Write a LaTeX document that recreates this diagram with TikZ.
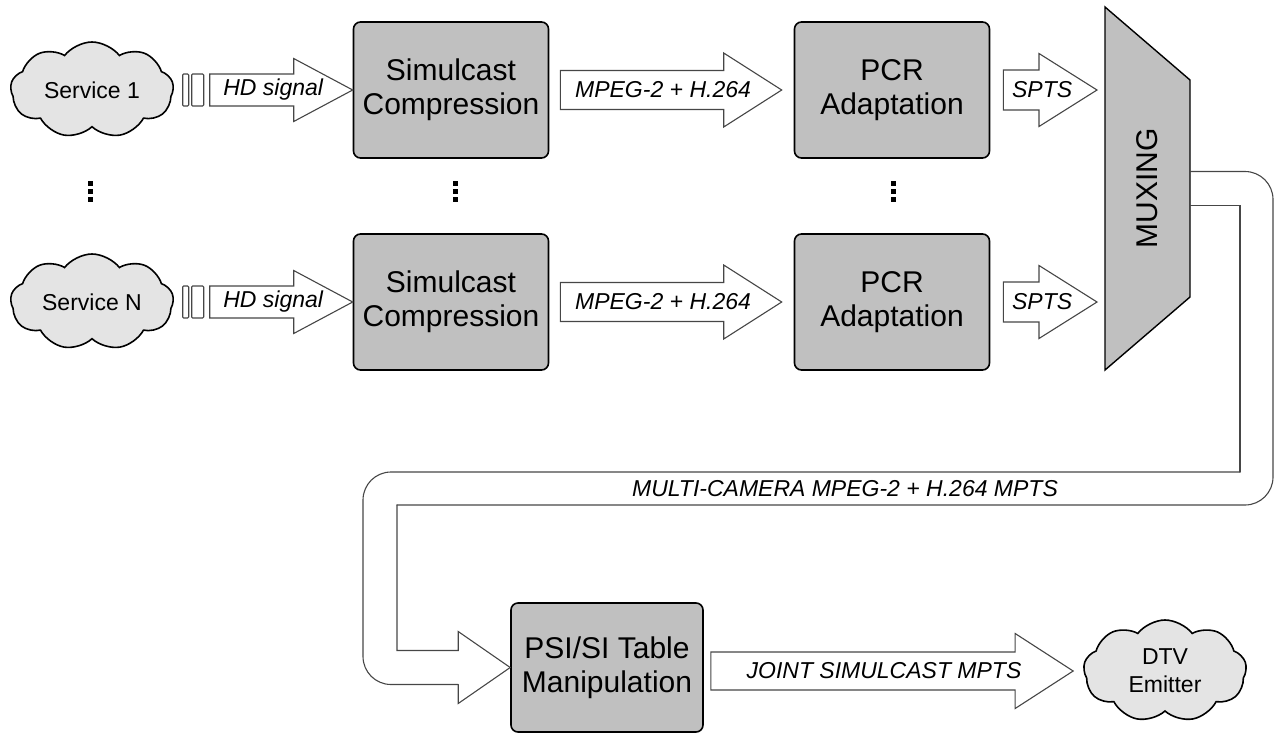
\documentclass[tikz,border=0pt]{standalone}
\usepackage{fontspec}
\setmainfont{Liberation Sans}
\usetikzlibrary{shapes.symbols,calc}
\definecolor{boxgray}{RGB}{192,192,192}
\definecolor{cloudgray}{RGB}{228,228,228}
\definecolor{linegray}{RGB}{70,70,70}
\tikzstyle{block} = [rectangle, draw, line width=1.6pt, rounded corners=7pt, fill=boxgray, minimum width=195pt, minimum height=136pt, align=center, font=\fontsize{30}{34}\selectfont]
\tikzstyle{service} = [cloud, cloud puffs=9, cloud puff arc=105, cloud ignores aspect, draw, line width=1.6pt, fill=cloudgray, minimum width=163pt, minimum height=96pt, align=center, font=\fontsize{23}{28}\selectfont]
\tikzstyle{muxer} = [rotate=90, font=\fontsize{30}{34}\selectfont]
\tikzstyle{fat} = [draw=linegray, line width=1.1pt, fill=white, line join=miter]
\tikzstyle{bandline} = [draw=linegray, line width=1.1pt, line cap=round]
\tikzstyle{flowlabel} = [font=\fontsize{23}{27}\selectfont\itshape]

\newcommand{\fatarrow}[6]{%
  \draw[fat] let \p1=(#1), \p2=(#2) in
    (\x1,\y2+#3pt) -- (\x2-#5pt,\y2+#3pt) -- (\x2-#5pt,\y2+#4pt) -- (\x2,\y2)
    -- (\x2-#5pt,\y2-#4pt) -- (\x2-#5pt,\y2-#3pt) -- (\x1,\y2-#3pt) -- cycle
    ({(\x1+\x2)/2-8pt},\y2) node[flowlabel] {#6};
}
\newcommand{\stripes}[1]{%
  \draw[fat, rounded corners=1pt] ($(#1)+(-27,-16)$) rectangle ($(#1)+(-21,16)$);
  \draw[fat, rounded corners=1pt] ($(#1)+(-18,-16)$) rectangle ($(#1)+(-6,16)$);
}

\begin{document}
\begin{tikzpicture}[x=1pt,y=-1pt]
  \useasboundingbox (0,0) rectangle (1282,734);

  \node[service] (svc1) at (92,90) {Service 1};
  \node[block] (sc1) at (451,90) {Simulcast\\Compression};
  \node[block] (pcr1) at (892,90) {PCR\\Adaptation};
  \node[service] (svcN) at (92,302) {Service N};
  \node[block] (sc2) at (451,302) {Simulcast\\Compression};
  \node[block] (pcr2) at (892,302) {PCR\\Adaptation};
  \node[block, minimum width=192pt, minimum height=129pt] (psi) at (607,667.5) {PSI/SI Table\\Manipulation};
  \node[service, minimum height=102pt] (dtv) at (1165,671) {DTV\\Emitter};

  \coordinate (muxc) at (1147.5,188.5);
  \filldraw[fill=boxgray, line width=1.4pt, line join=miter]
    ($(muxc)+(-42.5,-181.5)$) -- ($(muxc)+(42.5,-108.5)$) -- ($(muxc)+(42.5,108.5)$)
    -- ($(muxc)+(-42.5,181.5)$) -- cycle;
  \node[muxer] (mux) at (muxc) {MUXING};
  \coordinate (muxin) at ($(muxc)+(-42.5,0)$);
  \coordinate (muxout) at ($(muxc)+(42.5,0)$);

  \foreach \dx in {90,455,893}
    \foreach \dy in {183,191,199}
      \fill (\dx-2.5,\dy-2.5) rectangle +(5,5);

  \coordinate (hd1) at ($(sc1.west)+(-143,0)$);
  \coordinate (hdN) at ($(sc2.west)+(-143,0)$);
  \coordinate (mp1) at ($(sc1.east)+(11,0)$);
  \coordinate (mpN) at ($(sc2.east)+(11,0)$);
  \coordinate (mp1tip) at ($(pcr1.west)+(-12,0)$);
  \coordinate (mpNtip) at ($(pcr2.west)+(-12,0)$);
  \coordinate (sp1) at ($(pcr1.east)+(13,0)$);
  \coordinate (spN) at ($(pcr2.east)+(13,0)$);
  \coordinate (sp1tip) at ($(muxin |- pcr1.east)+(-8,0)$);
  \coordinate (spNtip) at ($(muxin |- pcr2.east)+(-8,0)$);
  \coordinate (jt) at ($(psi.east)+(7,0)$);
  \coordinate (jttip) at ($(dtv.west)+(-10,0)$);

  \stripes{hd1}
  \stripes{hdN}
  \fatarrow{hd1}{sc1.west}{16}{31.5}{59}{HD signal}
  \fatarrow{hdN}{sc2.west}{16}{31.5}{59}{HD signal}
  \fatarrow{mp1}{mp1tip}{19.5}{37}{58}{MPEG-2 + H.264}
  \fatarrow{mpN}{mpNtip}{19.5}{37}{58}{MPEG-2 + H.264}
  \fatarrow{sp1}{sp1tip}{20}{36.5}{58}{SPTS}
  \fatarrow{spN}{spNtip}{20}{36.5}{58}{SPTS}
  \fatarrow{jt}{jttip}{19}{37.5}{58}{JOINT SIMULCAST MPTS}

  \draw[bandline, rounded corners=28pt] ($(muxout)+(0,-17)$) -| (1273,505) -- (397,505);
  \draw[bandline] (397,505) |- ($(psi.west)+(-52,-17)$) -- ($(psi.west)+(-52,-36)$) -- (psi.west);
  \draw[bandline] ($(muxout)+(0,17)$) -| (1240,472);
  \draw[bandline, rounded corners=28pt] (1240,472) -- (363,472) |- ($(psi.west)+(-52,17)$);
  \draw[bandline] ($(psi.west)+(-52,17)$) -- ($(psi.west)+(-52,36)$) -- (psi.west);
  \node[flowlabel] (mcam) at (845,488.5) {MULTI-CAMERA MPEG-2 + H.264 MPTS};
\end{tikzpicture}
\end{document}
